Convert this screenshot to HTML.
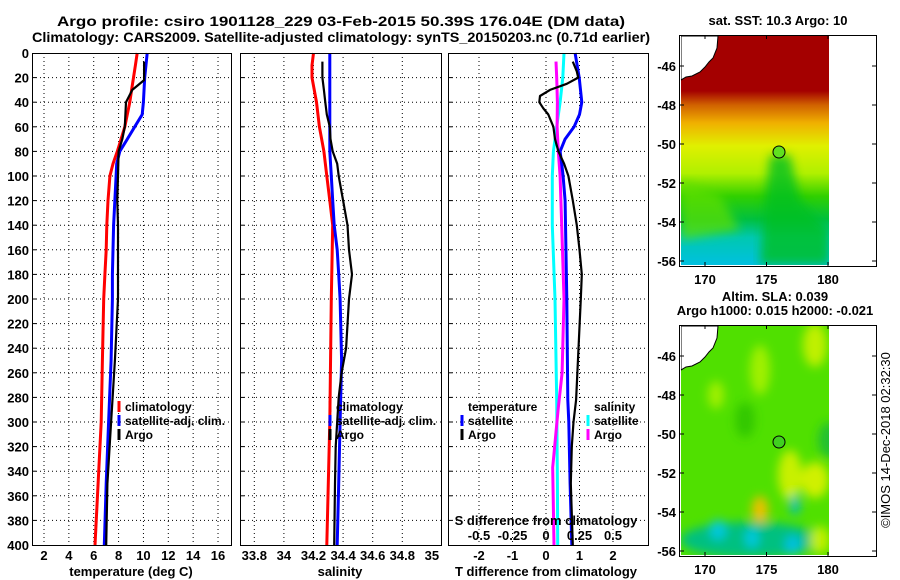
<!DOCTYPE html>
<html><head><meta charset="utf-8"><style>
html,body{margin:0;padding:0;background:#fff;}
svg{display:block;font-family:"Liberation Sans",sans-serif;font-weight:bold;}
</style></head><body>
<svg id="c" width="900" height="580" viewBox="0 0 900 580">
<defs>
<linearGradient id="sstg" x1="0" y1="0" x2="0" y2="1">
<stop offset="0" stop-color="#a40000"/><stop offset="0.24" stop-color="#a40000"/>
<stop offset="0.30" stop-color="#d06000"/><stop offset="0.38" stop-color="#f0b000"/>
<stop offset="0.48" stop-color="#e0f000"/><stop offset="0.60" stop-color="#b0f000"/>
<stop offset="0.70" stop-color="#30d000"/><stop offset="0.80" stop-color="#00c040"/>
<stop offset="0.88" stop-color="#00c8b0"/><stop offset="1" stop-color="#00c0e0"/>
</linearGradient>
<filter id="blur"><feGaussianBlur stdDeviation="5"/></filter>
<clipPath id="m1"><rect x="681" y="36" width="148" height="229"/></clipPath>
<clipPath id="m2"><rect x="681" y="326" width="148" height="229"/></clipPath>
</defs>
<g id="titles">
<text x="341" y="26" text-anchor="middle" font-size="14" textLength="568" lengthAdjust="spacingAndGlyphs">Argo profile: csiro 1901128_229 03-Feb-2015 50.39S 176.04E (DM data)</text>
<text x="341" y="42" text-anchor="middle" font-size="14" textLength="618" lengthAdjust="spacingAndGlyphs">Climatology: CARS2009. Satellite-adjusted climatology: synTS_20150203.nc (0.71d earlier)</text>
</g>
<g id="grid"></g>
<g id="series"></g>
<g id="frames"></g>
<g id="labels"></g>

<!-- SST map -->
<text x="778" y="25" text-anchor="middle" font-size="13">sat. SST: 10.3 Argo: 10</text>
<g clip-path="url(#m1)">
<rect x="681" y="36" width="148" height="229" fill="url(#sstg)"/>
<path d="M770 155 L790 155 L800 200 L829 230 L829 265 L760 265 L765 200 Z" fill="#00c020" opacity="0.8" filter="url(#blur)"/>
<path d="M681 180 L720 195 L740 230 L681 240 Z" fill="#60e000" opacity="0.7" filter="url(#blur)"/>
<path d="M681 36 L718 36 L717 48 L713 58 L709 62 L705 67 L700 72 L692 76 L686 77 L681 80 Z" fill="#fff" stroke="#000" stroke-width="1"/>
</g>
<rect x="829" y="36" width="48" height="229" fill="#fff"/>
<circle cx="779" cy="152" r="6" fill="#60e020" stroke="#000" stroke-width="1"/>
<rect x="679.5" y="35.5" width="197" height="231" fill="none" stroke="#000"/>

<!-- SLA map -->
<text x="775" y="301" text-anchor="middle" font-size="13">Altim. SLA: 0.039</text>
<text x="775" y="315" text-anchor="middle" font-size="13">Argo h1000: 0.015 h2000: -0.021</text>
<g clip-path="url(#m2)">
<rect x="681" y="326" width="148" height="229" fill="#50e000"/>
<g filter="url(#blur)">
<ellipse cx="815" cy="345" rx="12" ry="22" fill="#c0f000"/>
<ellipse cx="760" cy="370" rx="10" ry="25" fill="#a0f000"/>
<ellipse cx="716" cy="395" rx="8" ry="14" fill="#a0f000"/>
<ellipse cx="745" cy="420" rx="10" ry="18" fill="#30c800"/>
<ellipse cx="790" cy="475" rx="12" ry="25" fill="#c8f000"/>
<ellipse cx="760" cy="510" rx="8" ry="14" fill="#f0c000"/>
<ellipse cx="815" cy="480" rx="14" ry="18" fill="#d0f000"/>
<ellipse cx="830" cy="440" rx="12" ry="18" fill="#20c030"/>
<ellipse cx="750" cy="540" rx="70" ry="18" fill="#00c080"/>
<ellipse cx="718" cy="530" rx="8" ry="10" fill="#00c8e0"/>
<ellipse cx="752" cy="538" rx="7" ry="10" fill="#00c8e0"/>
<ellipse cx="793" cy="545" rx="8" ry="10" fill="#00c0e0"/>
<ellipse cx="795" cy="505" rx="5" ry="10" fill="#00c0c0"/>
<ellipse cx="820" cy="540" rx="10" ry="14" fill="#c0f000"/>
</g>
<path d="M681 326 L718 326 L717 338 L713 348 L709 352 L705 357 L700 362 L692 366 L686 367 L681 370 Z" fill="#fff" stroke="#000" stroke-width="1"/>
</g>
<rect x="829" y="326" width="48" height="229" fill="#fff"/>
<circle cx="779" cy="442" r="6" fill="#40d020" stroke="#000" stroke-width="1"/>
<rect x="679.5" y="325.5" width="197" height="231" fill="none" stroke="#000"/>
<g id="maplabels"></g>
<text transform="translate(890,440) rotate(-90)" text-anchor="middle" font-size="13" font-weight="normal">©IMOS 14-Dec-2018 02:32:30</text>
</svg>
<script>
// ---- data ----
const tClimDepth=[0,10,20,30,40,50,60,70,80,90,100,120,140,160,180,200,250,300,350,400];
const tClimVal=[9.5,9.35,9.2,9.05,8.9,8.7,8.5,8.2,7.9,7.55,7.3,7.15,7.05,7.0,6.9,6.8,6.7,6.6,6.35,6.1];
const tSatDepth=[0,20,40,50,60,70,80,90,100,140,180,200,250,300,350,400];
const tSatVal=[10.3,10.1,10.0,9.9,9.3,8.7,8.1,7.85,7.8,7.6,7.5,7.5,7.4,7.2,7.0,6.85];
const tArgoDepth=[7,22,30,40,60,70,80,100,120,140,200,250,300,350,400];
const tArgoVal=[10.05,10.05,9.1,8.6,8.5,8.3,8.0,7.95,7.9,7.95,7.95,7.7,7.4,7.1,7.0];
const sClimDepth=[0,10,20,40,60,80,100,120,140,200,300,400];
const sClimVal=[34.20,34.19,34.19,34.22,34.24,34.27,34.29,34.31,34.33,34.32,34.31,34.29];
const sSatDepth=[0,80,100,120,140,160,180,200,250,300,350,400];
const sSatVal=[34.31,34.31,34.32,34.33,34.34,34.36,34.37,34.38,34.39,34.38,34.37,34.36];
const sArgoDepth=[7,20,30,40,50,60,70,80,90,100,120,140,160,180,200,240,260,280,300,320,350,400];
const sArgoVal=[34.26,34.26,34.27,34.28,34.29,34.31,34.315,34.33,34.36,34.37,34.40,34.43,34.44,34.46,34.44,34.42,34.39,34.37,34.36,34.35,34.345,34.34];
const dTSatDepth=[0,20,40,50,60,70,80,90,100,120,200,282,300,350,400];
const dTSatVal=[0.87,0.99,1.07,1.0,0.84,0.57,0.42,0.47,0.51,0.57,0.62,0.65,0.68,0.72,0.77];
const dTArgoDepth=[7,15,20,25,30,35,40,45,50,60,70,80,90,100,120,140,160,180,200,282,300,320,350,400];
const dTArgoVal=[0.8,0.92,0.96,0.62,0.12,-0.18,-0.2,-0.08,0.07,0.22,0.27,0.37,0.54,0.67,0.8,0.92,1.0,1.07,1.04,0.9,0.82,0.77,0.74,0.8];
const dSSatDepth=[0,20,40,60,80,100,140,200,282,350,400];
const dSSatVal=[0.134,0.125,0.105,0.08,0.055,0.047,0.047,0.067,0.08,0.085,0.087];
const dSArgoDepth=[7,20,40,60,80,100,140,200,260,290,337,400];
const dSArgoVal=[0.075,0.08,0.085,0.083,0.092,0.105,0.117,0.134,0.12,0.09,0.05,0.06];
const depthTicks=[0,20,40,60,80,100,120,140,160,180,200,220,240,260,280,300,320,340,360,380,400];
const tTicks=[2,4,6,8,10,12,14,16];
const sTicks=[33.8,34,34.2,34.4,34.6,34.8,35];
const dTTicks=[-2,-1,0,1,2];
const dSTicks=[-0.5,-0.25,0,0.25,0.5];
const latTicks=[-46,-48,-50,-52,-54,-56];
const lonTicks=[170,175,180];

// ---- axes ----
const yP=d=>53+d*1.23;
const xT=t=>44+(t-2)*12.43;
const xS=s=>254.3+(s-33.8)*148;
const xD=v=>546+v*33.5;
const xSD=v=>546+v*134;
const yLat1=l=>66+(-46-l)*19.5;
const yLat2=l=>356+(-46-l)*19.5;
const xLon=l=>705+(l-170)*12.3;
const P=[{x0:32,x1:231},{x0:240,x1:441},{x0:448,x1:648}];

const NS='http://www.w3.org/2000/svg';
function mk(tag,parent,attrs){const e=document.createElementNS(NS,tag);for(const k in attrs)e.setAttribute(k,attrs[k]);parent.appendChild(e);return e;}
const G=document.getElementById('grid'),S=document.getElementById('series'),F=document.getElementById('frames'),L=document.getElementById('labels'),ML=document.getElementById('maplabels');

P.forEach((p,i)=>{
  depthTicks.forEach(d=>{if(d>0&&d<400){const l=mk('line',G,{x1:p.x0,x2:p.x1,y1:yP(d),y2:yP(d),stroke:'#000','stroke-dasharray':'1,3'});
    
    
    mk('line',G,{x1:p.x0,x2:p.x0+4,y1:yP(d),y2:yP(d),stroke:'#000'});}});
});
function vgrid(ticks,fx){ticks.forEach(t=>{const x=fx(t);if(x>33&&x<647){const l=mk('line',G,{x1:x,x2:x,y1:yP(0),y2:yP(400),stroke:'#000','stroke-dasharray':'1,3'});
  
  }});}
vgrid(tTicks,xT);vgrid(sTicks.filter(s=>s<35),xS);vgrid(dTTicks,xD);

function line(dep,val,fx,col,w,name){
  const pts=dep.map((d,i)=>fx(val[i]).toFixed(1)+','+yP(d).toFixed(1)).join(' ');
  const e=mk('polyline',S,{points:pts,fill:'none',stroke:col,'stroke-width':w,'stroke-linejoin':'round'});
  
  
}
line(tClimDepth,tClimVal,xT,'#ff0000',3,'temperature-climatology-line');
line(tSatDepth,tSatVal,xT,'#0000ff',3,'temperature-satellite-line');
line(tArgoDepth,tArgoVal,xT,'#000',2.2,'temperature-argo-line');
line(sClimDepth,sClimVal,xS,'#ff0000',3,'salinity-climatology-line');
line(sSatDepth,sSatVal,xS,'#0000ff',3,'salinity-satellite-line');
line(sArgoDepth,sArgoVal,xS,'#000',2.2,'salinity-argo-line');
line(dSSatDepth,dSSatVal,xSD,'#00ffff',3,'s-diff-satellite-line');
line(dSArgoDepth,dSArgoVal,xSD,'#ff00ff',3,'s-diff-argo-line');
line(dTSatDepth,dTSatVal,xD,'#0000ff',3,'t-diff-satellite-line');
line(dTArgoDepth,dTArgoVal,xD,'#000',2.2,'t-diff-argo-line');

P.forEach((p,i)=>{const r=mk('rect',F,{x:p.x0+0.5,y:yP(0)+0.5,width:p.x1-p.x0,height:yP(400)-yP(0),fill:'none',stroke:'#000'});
  
  });

function txt(parent,x,y,s,anchor,size,name){const e=mk('text',parent,{x:x,y:y,'text-anchor':anchor||'middle','font-size':size||13});e.textContent=s;
  
  return e;}
depthTicks.forEach(d=>txt(L,29,yP(d)+5,String(d),'end',13,'depth-tick-label'));
tTicks.forEach(t=>txt(L,xT(t),560,String(t),'middle',13,'temperature-tick-label'));
sTicks.forEach(s=>txt(L,xS(s),560,String(s),'middle',13,'salinity-tick-label'));
dTTicks.forEach(t=>txt(L,xD(t),560,String(t),'middle',13,'t-diff-tick-label'));
dSTicks.forEach(t=>txt(L,xSD(t),540,String(t),'middle',13,'s-diff-tick-label'));
txt(L,131,576,'temperature (deg C)','middle',13,'temperature-axis-title');
txt(L,340,576,'salinity','middle',13,'salinity-axis-title');
txt(L,546,576,'T difference from climatology','middle',13,'t-diff-axis-title');
txt(L,546,525,'S difference from climatology','middle',13,'s-diff-axis-title');
function leg(x,y,col,s,name){mk('line',L,{x1:x,x2:x,y1:y-10,y2:y+1,stroke:col,'stroke-width':3});txt(L,x+6,y,s,'start',12,name);}
leg(119,411,'#ff0000','climatology','legend-climatology');
leg(119,425,'#0000ff','satellite-adj. clim.','legend-satellite-adj');
leg(119,439,'#000','Argo','legend-argo');
leg(330,411,'#ff0000','climatology','legend-sal-climatology');
leg(330,425,'#0000ff','satellite-adj. clim.','legend-sal-satellite-adj');
leg(330,439,'#000','Argo','legend-sal-argo');
txt(L,468,411,'temperature','start',12,'legend-temperature-heading');
leg(462,425,'#0000ff','satellite','legend-t-satellite');
leg(462,439,'#000','Argo','legend-t-argo');
txt(L,594,411,'salinity','start',12,'legend-salinity-heading');
leg(588,425,'#00ffff','satellite','legend-s-satellite');
leg(588,439,'#ff00ff','Argo','legend-s-argo');
[[yLat1,35,266],[yLat2,325,556]].forEach(([fy,top,bot])=>{
  latTicks.forEach(l=>{const y=fy(l);txt(ML,676,y+5,String(l),'end',13,'latitude-tick-label');
    mk('line',ML,{x1:680,x2:684,y1:y,y2:y,stroke:'#000'});mk('line',ML,{x1:872,x2:876,y1:y,y2:y,stroke:'#000'});});
  lonTicks.forEach(l=>{const x=xLon(l);txt(ML,x,bot+18,String(l),'middle',13,'longitude-tick-label');
    mk('line',ML,{x1:x,x2:x,y1:top,y2:top+4,stroke:'#000'});mk('line',ML,{x1:x,x2:x,y1:bot-4,y2:bot,stroke:'#000'});});
});
</script>
</body></html>
